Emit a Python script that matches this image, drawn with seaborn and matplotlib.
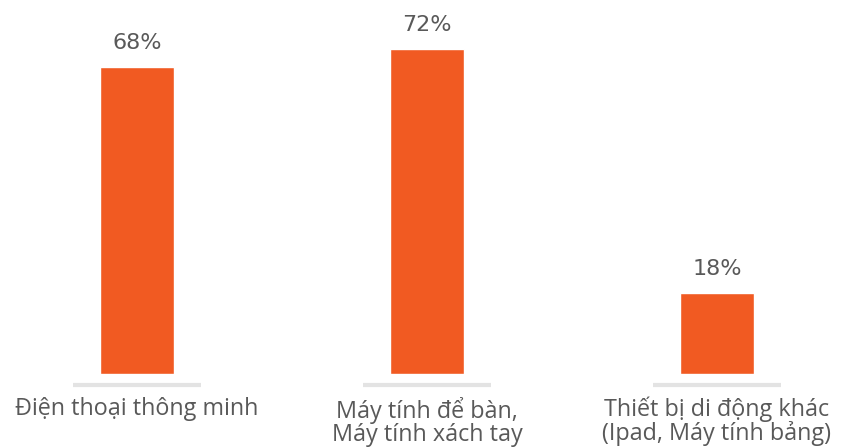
import matplotlib
matplotlib.use("Agg")
import matplotlib.pyplot as plt
import seaborn as sns
import pandas as pd

categories = ["Điện thoại thông minh", "Máy tính để bàn,\nMáy tính xách tay", "Thiết bị di động khác\n(Ipad, Máy tính bảng)"]
values = [68, 72, 18]
value_labels = ["68%", "72%", "18%"]

sns.set_theme(style="white")
plt.rcParams['font.family'] = ['Open Sans', 'DejaVu Sans']

BAR = "#F15A22"
TEXT = "#595959"

df = pd.DataFrame({"cat": categories, "val": values})

fig = plt.figure(figsize=(8.48, 4.48), dpi=100)
ax = fig.add_axes([0, 74/448, 1, 374/448])
sns.barplot(data=df, x="cat", y="val", color=BAR, width=0.255, saturation=1, ax=ax)

x0 = -137/290
ax.set_xlim(x0, x0 + 848/290)
ax.set_ylim(0, 374/4.52)

for i, (v, lab) in enumerate(zip(values, value_labels)):
    ax.annotate(lab, (i, v), xytext=(0, 10), textcoords="offset points",
                ha="center", va="bottom", fontsize=16, color=TEXT,
                family=['DejaVu Sans'])

ax.hlines([-11/4.52]*3, [i - 0.22 for i in range(3)], [i + 0.22 for i in range(3)],
          colors="#E3E3E3", linewidth=3, clip_on=False)

ax.set_xticks(range(3))
ax.set_xticklabels(categories, fontsize=16.8, color=TEXT, linespacing=0.95)
ax.tick_params(axis="x", length=0, pad=16.5)
ax.set_yticks([])
ax.set_xlabel("")
ax.set_ylabel("")
for s in ax.spines.values():
    s.set_visible(False)

fig.savefig("out.png", dpi=100)
